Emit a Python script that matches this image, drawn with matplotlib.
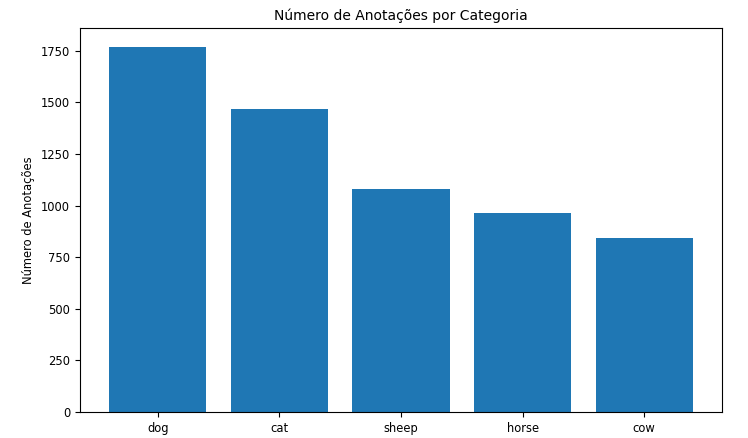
import matplotlib
matplotlib.use("Agg")
import matplotlib.pyplot as plt

plt.rcParams["font.size"] = 8.3

categories = ["dog", "cat", "sheep", "horse", "cow"]
counts = [1770, 1470, 1078, 962, 841]

fig = plt.figure(figsize=(7.48, 4.38), dpi=100)
ax = fig.add_axes([80/748, 1-412/438, 642/748, 384/438])
ax.bar(categories, counts, color="#1f77b4")
ax.set_title("Número de Anotações por Categoria", fontsize=10)
ax.set_ylabel("Número de Anotações")
ax.set_xlabel("Categoria")
ax.set_ylim(0, 1860)
fig.savefig("out.png", dpi=100)
